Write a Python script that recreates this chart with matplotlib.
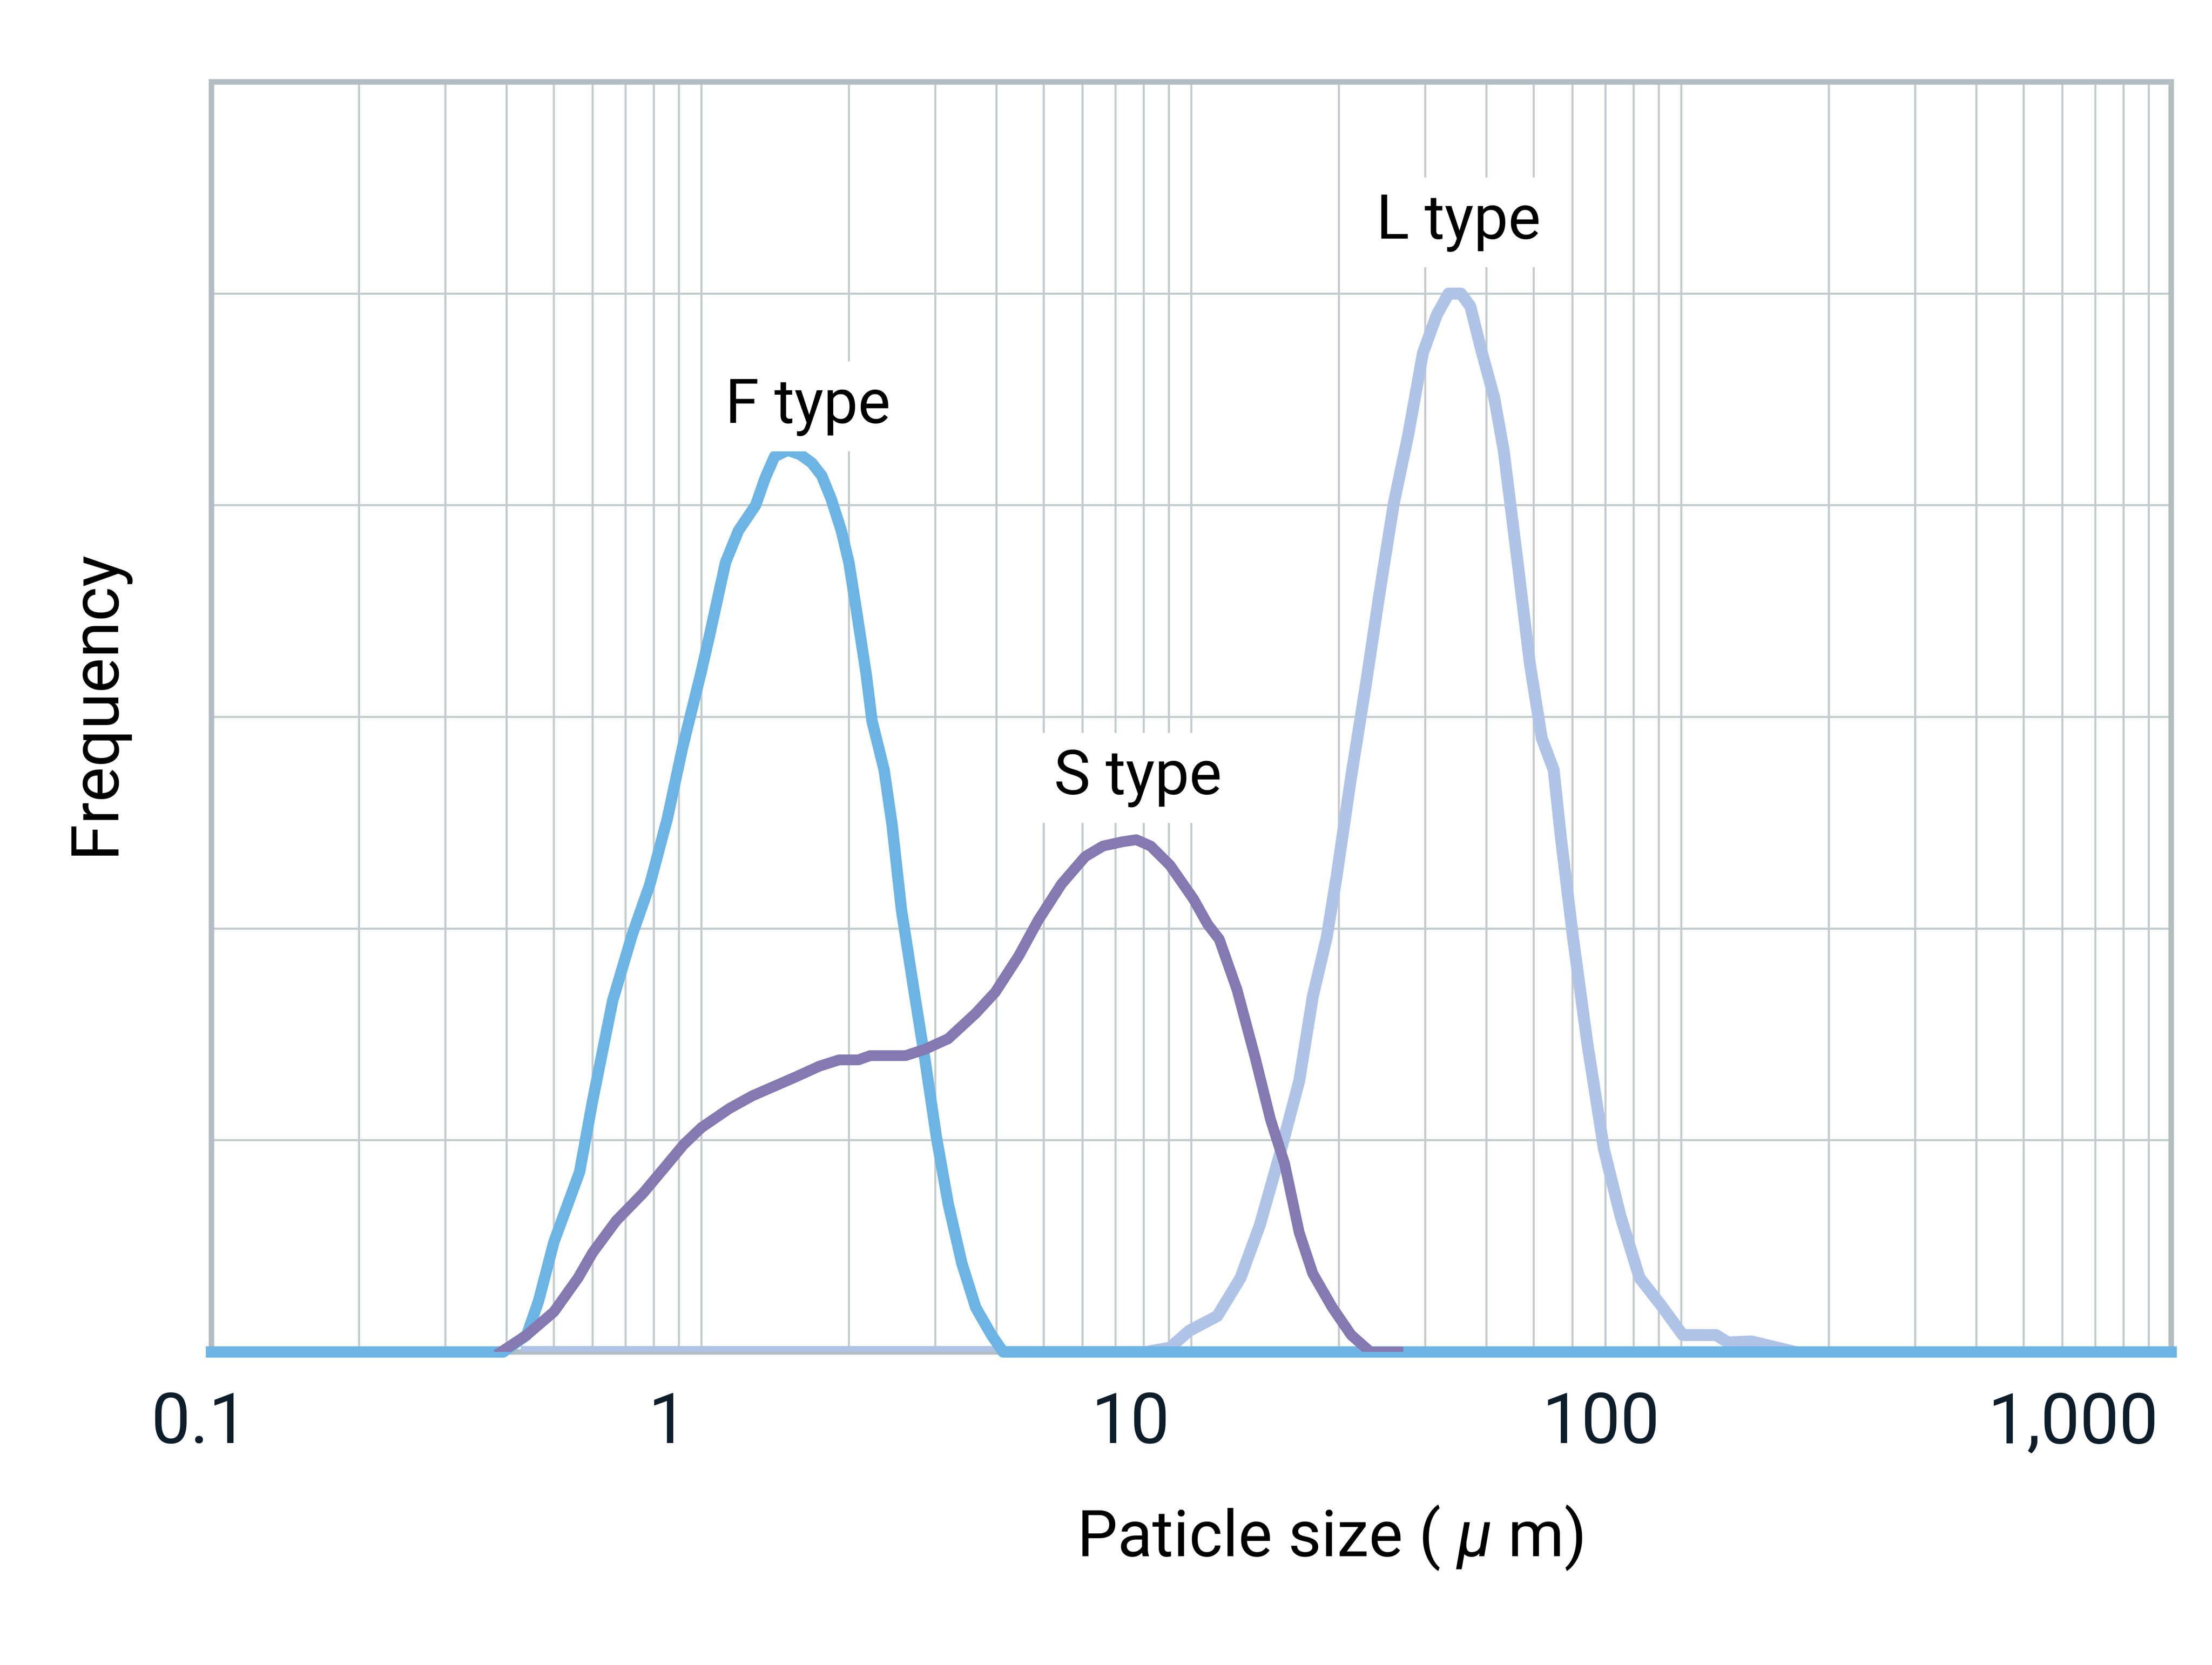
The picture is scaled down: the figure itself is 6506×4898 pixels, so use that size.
import matplotlib
matplotlib.use("Agg")
import matplotlib.pyplot as plt
from matplotlib.ticker import LogLocator, NullFormatter
from matplotlib.transforms import blended_transform_factory

plt.rcParams['font.family'] = ['Roboto', 'DejaVu Sans']
plt.rcParams['mathtext.fontset'] = 'custom'
plt.rcParams['mathtext.rm'] = 'Roboto'
plt.rcParams['mathtext.it'] = 'Roboto:italic'

# particle size (um) / frequency
f_size = [0.1, 0.394, 0.44, 0.465, 0.50, 0.564, 0.60, 0.659, 0.722, 0.785,
          0.852, 0.916, 0.996, 1.04, 1.12, 1.19, 1.29, 1.35, 1.41, 1.50,
          1.59, 1.68, 1.76, 1.84, 1.93, 2.00, 2.07, 2.17, 2.23, 2.36,
          2.45, 2.56, 2.71, 2.86, 3.02, 3.19, 3.40, 3.63, 3.91, 4.13, 1000]
f_freq = [0, 0, 0.08, 0.24, 0.52, 0.85, 1.19, 1.66, 1.97, 2.21,
          2.52, 2.86, 3.20, 3.39, 3.73, 3.88, 4.00, 4.13, 4.23, 4.26,
          4.24, 4.20, 4.14, 4.03, 3.88, 3.73, 3.51, 3.20, 2.98, 2.75,
          2.49, 2.09, 1.72, 1.38, 1.01, 0.70, 0.42, 0.21, 0.08, 0, 0]

s_size = [0.39, 0.44, 0.50, 0.56, 0.60, 0.67, 0.76, 0.84, 0.92, 1.0,
          1.14, 1.27, 1.56, 1.74, 1.91, 2.09, 2.21, 2.61, 2.86, 3.19,
          3.63, 3.98, 4.44, 4.87, 5.43, 6.07, 6.6, 7.22, 7.72, 8.26,
          9.04, 10.1, 10.8, 11.4, 12.4, 13.5, 14.5, 15.5, 16.6, 17.7,
          19.4, 21.2, 23.2, 26.4]
s_freq = [0, 0.08, 0.19, 0.35, 0.47, 0.62, 0.75, 0.87, 0.98, 1.06,
          1.15, 1.21, 1.30, 1.35, 1.38, 1.38, 1.40, 1.40, 1.43, 1.48,
          1.60, 1.70, 1.87, 2.04, 2.21, 2.34, 2.39, 2.41, 2.42, 2.39,
          2.30, 2.14, 2.02, 1.95, 1.71, 1.39, 1.10, 0.89, 0.565, 0.37,
          0.21, 0.08, 0, 0]

l_size = [0.44, 8.07, 9.04, 9.9, 11.3, 12.6, 13.8, 15.1, 16.6, 17.7,
          18.9, 19.8, 21.2, 22.7, 24.2, 25.9, 27.7, 29.7, 31.7, 33.5,
          35.5, 37.1, 39.2, 41.5, 43.4, 46.4, 49.1, 51.9, 54.9, 56.8,
          60.1, 64.3, 69.5, 75.2, 82.2, 91, 100.7, 117.8, 124.5, 139, 171]
l_freq = [0, 0, 0.02, 0.10, 0.17, 0.35, 0.60, 0.92, 1.28, 1.68,
          1.96, 2.25, 2.72, 3.15, 3.58, 4.01, 4.33, 4.72, 4.90, 5.0,
          5.0, 4.94, 4.72, 4.51, 4.26, 3.72, 3.25, 2.90, 2.75, 2.43,
          1.96, 1.46, 0.96, 0.64, 0.35, 0.22, 0.08, 0.08, 0.045, 0.05, 0]

series_names = ['F type', 'S type', 'L type']
label_pos = {'F type': (1.65, 4.39), 'S type': (7.78, 2.635), 'L type': (35.1, 5.26)}

tick_values = [0.1, 1, 10, 100, 1000]
tick_labels = ['0.1', '1', '10', '100', '1,000']
tick_label_x = [-0.006, 0.233, 0.469, 0.709, 0.950]  # axes fraction, as placed in the original

COLOR_F = '#6cb4e3'
COLOR_S = '#8479b0'
COLOR_L = '#aec3e6'
GRID = '#c3cbcf'
FRAME = '#b3bdc2'

fig = plt.figure(figsize=(6507 / 400, 4898 / 400), dpi=400)
ax = fig.add_axes([0.0956, 0.188, 0.8858, 0.7628])

ax.set_xscale('log')
ax.set_xlim(0.1, 1000)
ax.set_ylim(0, 6)

ax.xaxis.set_major_locator(LogLocator(base=10, numticks=10))
ax.xaxis.set_minor_locator(LogLocator(base=10, subs=range(2, 10), numticks=50))
ax.xaxis.set_major_formatter(NullFormatter())
ax.xaxis.set_minor_formatter(NullFormatter())
ax.set_yticks(range(0, 7))
ax.set_yticklabels([])
ax.tick_params(which='both', length=0)
ax.grid(True, which='both', axis='x', color=GRID, linewidth=1.1, zorder=0)
ax.grid(True, which='major', axis='y', color=GRID, linewidth=1.1, zorder=0)
ax.set_axisbelow(True)

for side in ax.spines.values():
    side.set_color(FRAME)
    side.set_linewidth(2.9)

lw = 6.0
ax.plot(l_size, l_freq, color=COLOR_L, linewidth=lw + 0.3, zorder=3)
ax.plot(f_size, f_freq, color=COLOR_F, linewidth=lw, zorder=4, clip_on=False)
ax.plot(s_size, s_freq, color=COLOR_S, linewidth=lw - 0.3, zorder=5)

for name in series_names:
    x, y = label_pos[name]
    ax.text(x, y, name, ha='center', va='baseline', fontsize=32.5,
            color='black', zorder=6,
            bbox=dict(facecolor='white', edgecolor='none',
                      boxstyle='square,pad=0.25'))

trans = blended_transform_factory(ax.transAxes, fig.transFigure)
for xf, lab in zip(tick_label_x, tick_labels):
    ax.text(xf, 0.1333, lab, transform=trans, ha='center', va='baseline',
            fontsize=37, color='#0d1d2a')

fig.text(0.601, 0.0655, r'Paticle size ( $\mu$ m)', ha='center',
         va='baseline', fontsize=34, color='black')
fig.text(0.0433, 0.578, 'Frequency', rotation=90, ha='center',
         va='center', fontsize=35, color='black')

fig.savefig('out.png', dpi=400)
